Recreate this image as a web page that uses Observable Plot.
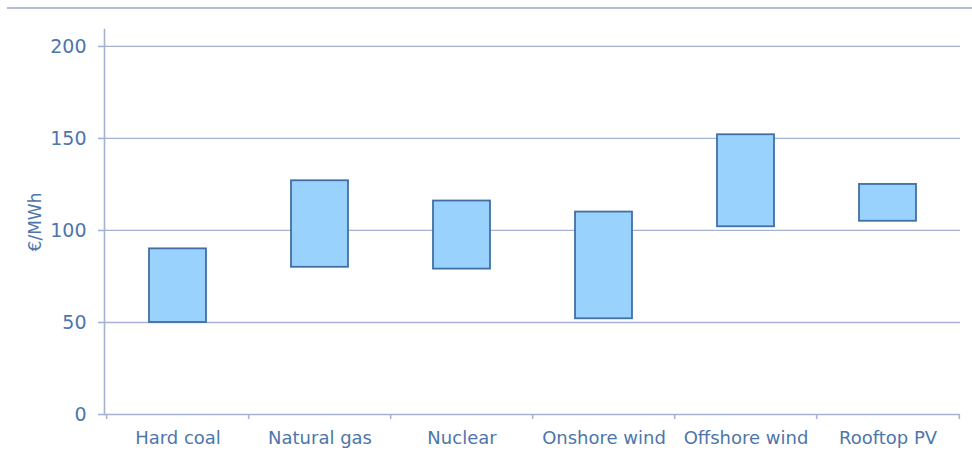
<!DOCTYPE html>
<html>
<head>
<meta charset="utf-8">
<script src="https://cdn.jsdelivr.net/npm/d3@7"></script>
<script src="https://cdn.jsdelivr.net/npm/@observablehq/plot@0.6"></script>
<style>
  body { margin: 0; background: #fff; }
  #chart { position: relative; width: 972px; height: 455px; }
  #topline { position: absolute; left: 7px; right: 0; top: 7px; border-top: 2px solid #b3bbd9; }
  #chart svg { display: block; }
</style>
</head>
<body>
<div id="chart"><div id="topline"></div></div>
<script>
// Levelised cost ranges by technology, €/MWh
const technologies = ["Hard coal", "Natural gas", "Nuclear", "Onshore wind", "Offshore wind", "Rooftop PV"];
const costLow  = [50, 80, 79, 52, 102, 105];
const costHigh = [90, 127, 116, 110, 152, 125];
const yTicks = [0, 50, 100, 150, 200];
const gridTicks = [50, 100, 150, 200];

const data = technologies.map((tech, i) => ({tech, low: costLow[i], high: costHigh[i]}));

const width = 972, height = 455;
const marginLeft = 104, marginRight = 12, marginTop = 29, marginBottom = 41;
const step = (width - marginLeft - marginRight) / technologies.length;

const textColor = "#4d76ab";
const lineColor = "#a5b2d4";
const font = "'DejaVu Sans', sans-serif";

const chart = Plot.plot({
  width, height, marginLeft, marginRight, marginTop, marginBottom,
  style: {fontFamily: font, color: textColor, background: "#fff"},
  x: {domain: technologies, paddingInner: 0.6, paddingOuter: 0.3, label: null},
  y: {domain: [0, 209.2], label: null},
  marks: [
    Plot.gridY({ticks: gridTicks, stroke: lineColor, strokeOpacity: 1, strokeWidth: 1.3}),
    Plot.barY(data, {x: "tech", y1: "low", y2: "high", fill: "#99d3fd", stroke: "#416fa3", strokeWidth: 1.8}),
    Plot.frame({anchor: "left", stroke: lineColor, strokeWidth: 1.6}),
    Plot.ruleY([0], {stroke: lineColor, strokeWidth: 1.6}),
    // category boundary ticks under the baseline
    Plot.ruleX(technologies, {x: d => d, dx: -step / 2, y1: 0, y2: 0, insetBottom: -5, stroke: lineColor, strokeWidth: 1.6}),
    Plot.ruleX(technologies.slice(-1), {x: d => d, dx: step / 2, y1: 0, y2: 0, insetBottom: -5, stroke: lineColor, strokeWidth: 1.6}),
    Plot.axisY({
      ticks: yTicks, tickSize: 6, tickPadding: 12, stroke: lineColor, strokeWidth: 1.6,
      fontSize: 19, fill: textColor,
      label: "€/MWh", labelAnchor: "center", labelArrow: "none", labelOffset: 76
    }),
    Plot.axisX({tickSize: 0, tickPadding: 17, fontSize: 18, fill: textColor})
  ]
});

chart.querySelectorAll("g[aria-label='y-axis label']").forEach(el => el.setAttribute("font-size", 17));
document.getElementById("chart").appendChild(chart);
</script>
</body>
</html>
